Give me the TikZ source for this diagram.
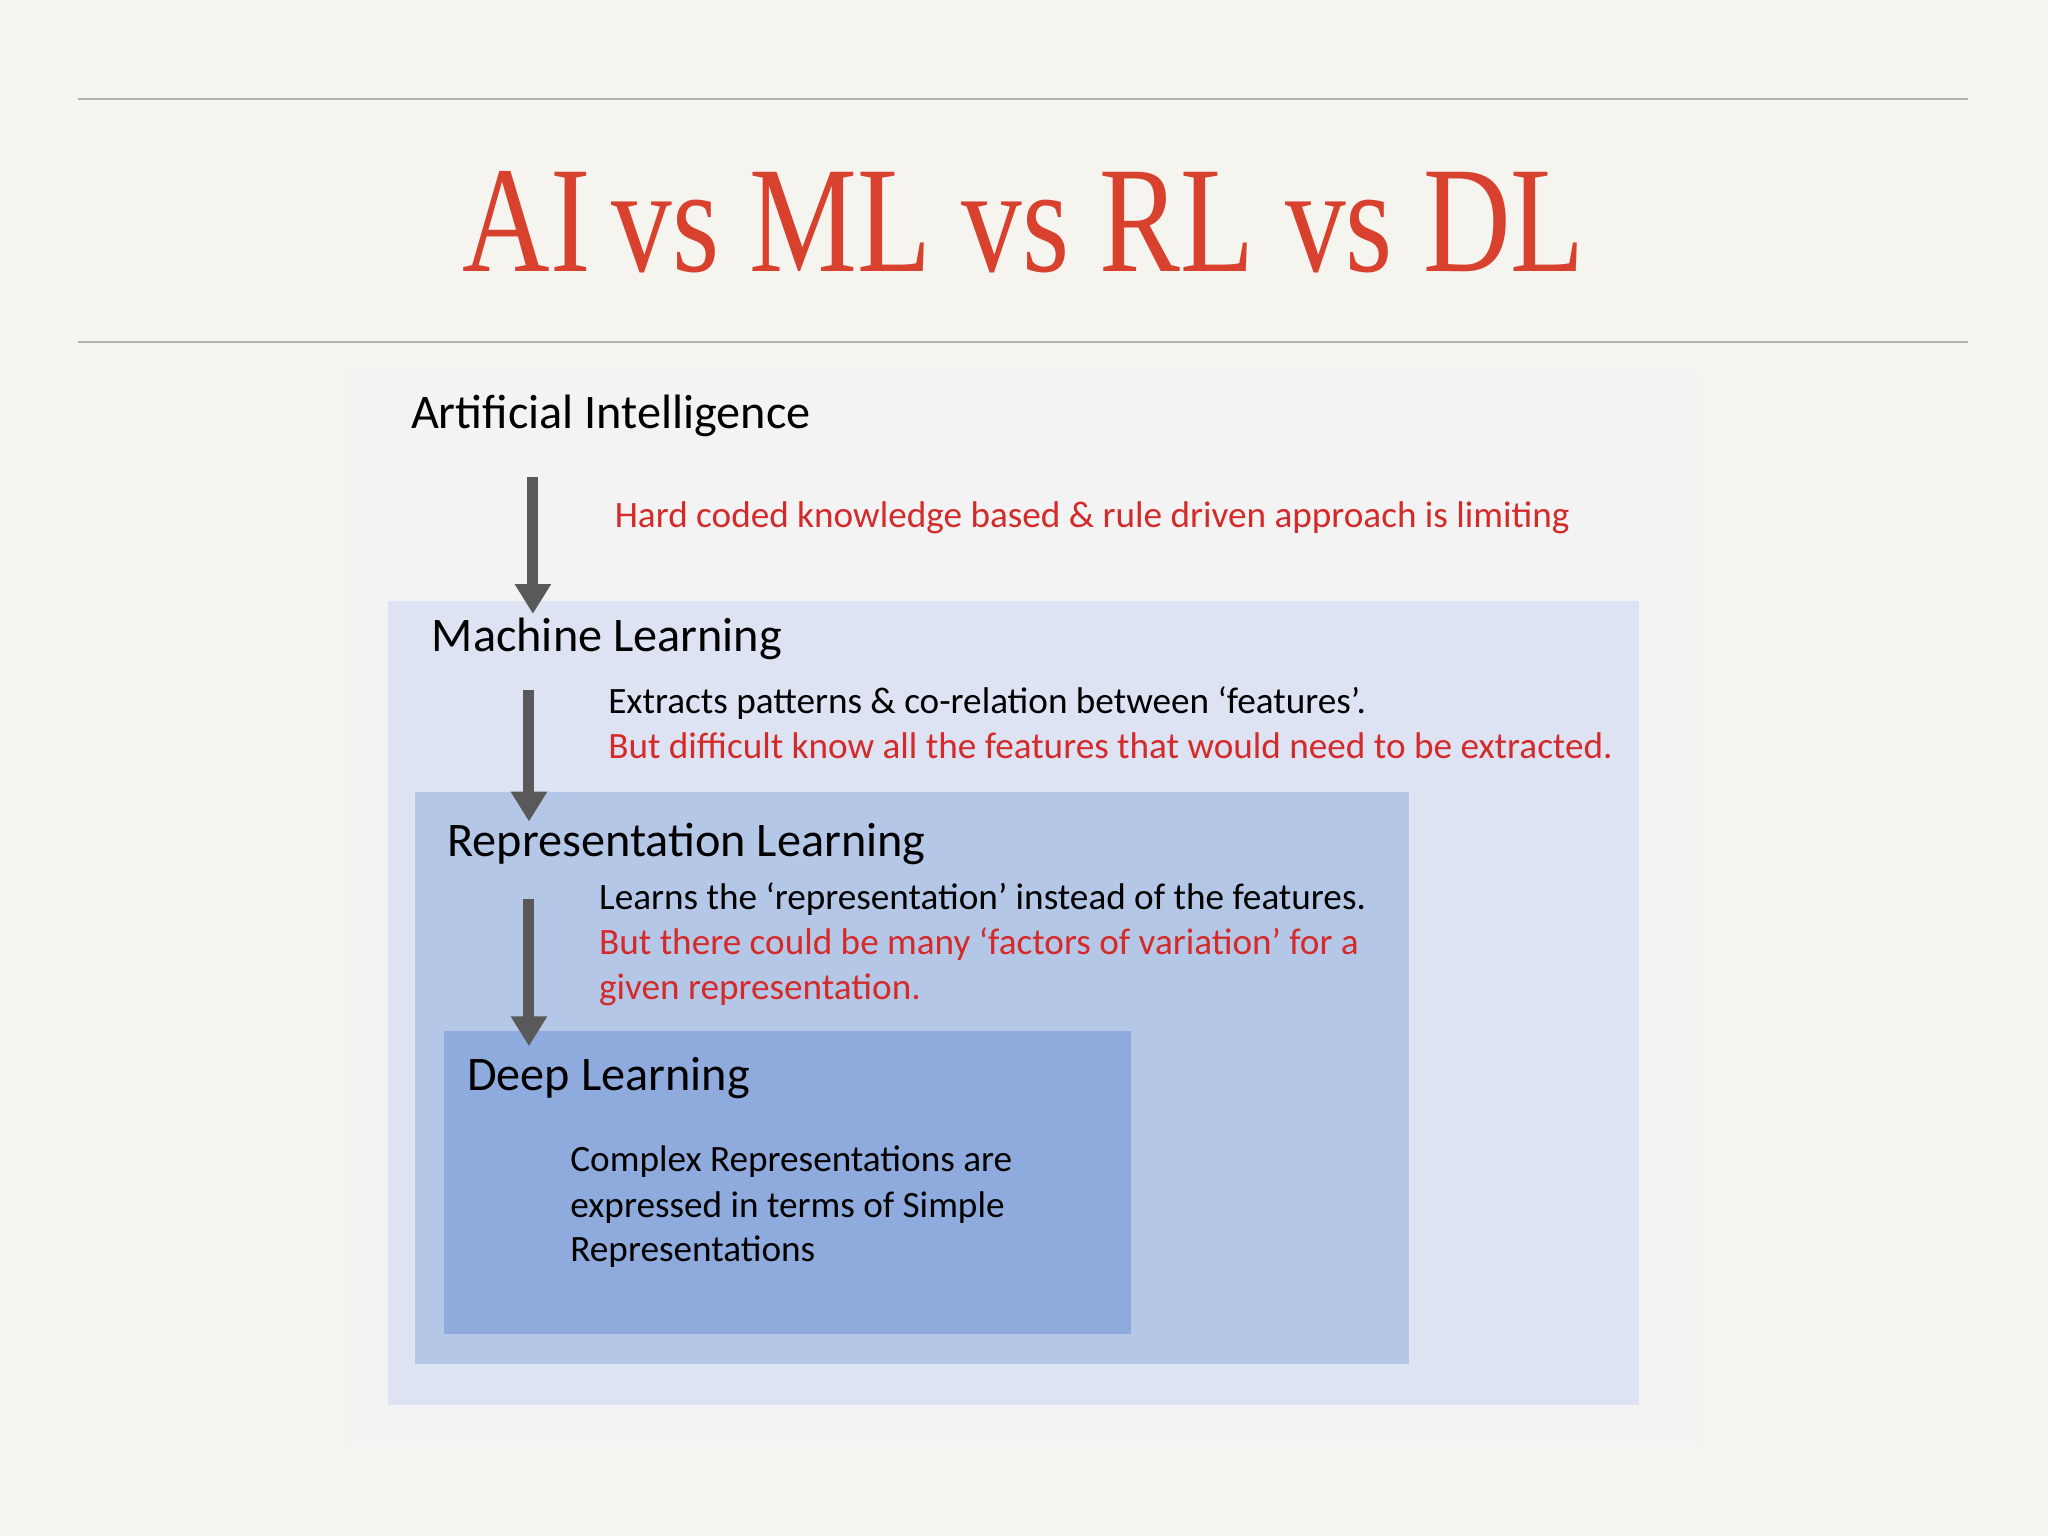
\documentclass[tikz,border=0pt]{standalone}
\usepackage{fontspec}
\setmainfont{Carlito}
\newfontfamily\titlefont{Liberation Serif}
\usetikzlibrary{arrows.meta}
\definecolor{bgc}{HTML}{F5F4EF}
\definecolor{panel}{HTML}{F3F3F4}
\definecolor{mlc}{HTML}{DDE3F3}
\definecolor{rlc}{HTML}{B4C7E7}
\definecolor{dlc}{HTML}{8FAADC}
\definecolor{redt}{HTML}{D42A2A}
\definecolor{tred}{HTML}{D9412F}
\definecolor{arr}{HTML}{595959}
\tikzset{
 head/.style={anchor=base west,font=\fontsize{10.5}{12}\selectfont,inner sep=0pt},
 body/.style={anchor=base west,font=\fontsize{8.1}{10}\selectfont,inner sep=0pt,align=left},
 downarrow/.style={draw=arr,line width=2.4pt,-{Triangle[width=7.5pt,length=6.5pt]}}
}
\begin{document}
\begin{tikzpicture}[x=0.01cm,y=-0.01cm]
\fill[bgc] (0,0) rectangle (1568,1176);
\useasboundingbox (0,0) rectangle (1568,1176);
\draw[gray!60,line width=0.4pt] (60,76) -- (1507,76);
\draw[gray!60,line width=0.4pt] (60,262) -- (1507,262);
\node[anchor=base,inner sep=0pt,text=tred,font=\titlefont\fontsize{33}{36}\selectfont,xscale=0.8] (title) at (784,208) {AI\hspace{-0.08em} vs ML vs RL vs DL};
\fill[panel] (267,283) rectangle (1303,1108);
\fill[mlc] (297,460) rectangle (1255,1076);
\fill[rlc] (318,606) rectangle (1079,1044);
\fill[dlc] (340,789) rectangle (866,1021);
\node[head] (ai) at (314,328) {Artificial Intelligence};
\node[body,text=redt] (ait) at (470,404) {Hard coded knowledge based \& rule driven approach is limiting};
\node[head] (ml) at (330,499) {Machine Learning};
\node[body] (mlt) at (465,546) {Extracts patterns \& co-relation between ‘features’.};
\node[body,text=redt] (mlt2) at (465,581) {But difficult know all the features that would need to be extracted.};
\node[head] (rl) at (342,656) {Representation Learning};
\node[body] (rlt) at (458,696) {Learns the ‘representation’ instead of the features.};
\node[body,text=redt] (rlt2) at (458,731) {But there could be many ‘factors of variation’ for a};
\node[body,text=redt] (rlt3) at (458,765) {given representation.};
\node[head] (dl) at (357,835) {Deep Learning};
\node[body] (dlt1) at (436,897) {Complex Representations are};
\node[body] (dlt2) at (436,932) {expressed in terms of Simple};
\node[body] (dlt3) at (436,966) {Representations};
\coordinate (a1s) at (408,365); \coordinate (a1e) at (408,470);
\coordinate (a2s) at (405,528); \coordinate (a2e) at (405,629);
\coordinate (a3s) at (405,688); \coordinate (a3e) at (405,801);
\draw[downarrow] (a1s) -- (a1e);
\draw[downarrow] (a2s) -- (a2e);
\draw[downarrow] (a3s) -- (a3e);
\end{tikzpicture}
\end{document}
